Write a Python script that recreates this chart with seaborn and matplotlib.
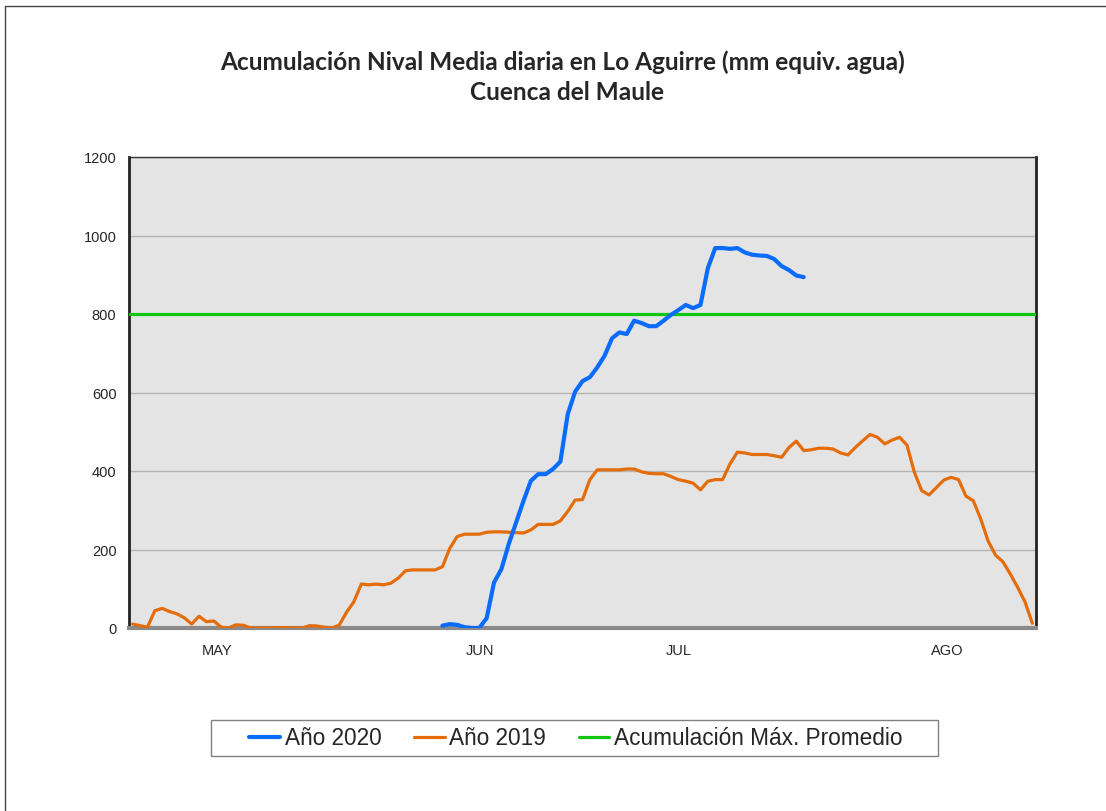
import numpy as np
import pandas as pd
import matplotlib
matplotlib.use("Agg")
import matplotlib.pyplot as plt
from matplotlib.patches import Rectangle
import seaborn as sns

# daily values, 1 May .. 31 Aug (123 days)
anio_2019 = [10, 6, 2, 44, 50, 42, 36, 26, 10, 30, 16, 18, 2, 0, 8, 7, 0, 0, 0, 0,
             1, 1, 0, 0, 6, 5, 2, 0, 7, 40, 67, 112, 110, 112, 110, 114, 127, 146, 148, 148,
             148, 148, 156, 203, 233, 239, 239, 239, 244, 245, 245, 244, 243, 242, 250, 264, 264, 264, 273, 297,
             326, 327, 378, 403, 403, 403, 403, 405, 405, 398, 394, 393, 393, 386, 378, 374, 369, 352, 374, 378,
             378, 418, 448, 446, 442, 442, 442, 439, 435, 460, 476, 452, 454, 458, 458, 456, 446, 441, 460, 477,
             493, 486, 469, 479, 486, 466, 397, 350, 339, 358, 377, 384, 378, 336, 324, 278, 222, 186, 169, 138,
             104, 67, 12]
# 2020 series starts on 12 Jun (day 42)
inicio_2020 = 42
anio_2020 = [6, 10, 8, 2, 0, 0, 25, 116, 150, 214, 269, 324, 375, 392, 392, 405, 424, 545, 602, 629,
             639, 664, 694, 738, 753, 749, 783, 777, 769, 769, 783, 798, 810, 823, 815, 823, 917, 968, 968, 966,
             968, 957, 951, 949, 948, 940, 922, 912, 898, 894]
max_promedio = 800

meses = ["MAY", "JUN", "JUL", "AGO"]
pos_meses = [11.4, 47.1, 74.0, 110.5]
yticks = [0, 200, 400, 600, 800, 1000, 1200]

dias = np.arange(len(anio_2019))
df19 = pd.DataFrame({"dia": dias, "mm": anio_2019})
df20 = pd.DataFrame({"dia": dias[inicio_2020:inicio_2020 + len(anio_2020)], "mm": anio_2020})

sns.set_style("white")
plt.rcParams["font.family"] = ["Liberation Sans", "DejaVu Sans"]

fig = plt.figure(figsize=(11.06, 8.12), dpi=100)
ax = fig.add_axes([129 / 1106, 1 - 629 / 812, (1036 - 129) / 1106, (629 - 158) / 812])
ax.set_facecolor("#e4e4e4")

azul, naranja, verde = "#0a6cfc", "#e46c0a", "#11c611"
ax.axhline(max_promedio, color=verde, lw=2.3, zorder=3, label="Acumulación Máx. Promedio")
sns.lineplot(data=df20, x="dia", y="mm", ax=ax, color=azul, lw=3.0, zorder=5, label="Año 2020")
sns.lineplot(data=df19, x="dia", y="mm", ax=ax, color=naranja, lw=2.3, zorder=4, label="Año 2019")

ax.set_xlim(-0.5, len(dias) - 0.5)
ax.set_ylim(0, 1200)
ax.set_yticks(yticks)
ax.set_yticklabels([str(v) for v in yticks], fontsize=10.5)
ax.yaxis.grid(True, color="#b4b4b4", lw=1)
ax.set_axisbelow(True)

ax.set_xticks(np.arange(-0.5, len(dias) - 1, 31))
ax.set_xticklabels([])
ax.set_xticks(pos_meses, minor=True)
ax.set_xticklabels(meses, minor=True, fontsize=10.5)
ax.tick_params(axis="x", which="minor", length=0, pad=11)
ax.tick_params(axis="x", which="major", length=5, color="#808080", width=1, direction="out")
ax.tick_params(axis="y", length=5, color="#808080", width=1, direction="out", pad=4)
ax.set_xlabel("")
ax.set_ylabel("")

ax.spines["left"].set_color("#222222")
ax.spines["left"].set_linewidth(2)
ax.spines["right"].set_color("#222222")
ax.spines["right"].set_linewidth(2)
ax.spines["top"].set_color("#333333")
ax.spines["top"].set_linewidth(1)
ax.spines["bottom"].set_color("#8a8a8a")
ax.spines["bottom"].set_linewidth(3)

ax.get_legend().remove()
h, l = ax.get_legend_handles_labels()
orden = [l.index("Año 2020"), l.index("Año 2019"), l.index("Acumulación Máx. Promedio")]
leg = fig.legend([h[i] for i in orden], [l[i] for i in orden], loc="center",
                 bbox_to_anchor=(576 / 1106, 1 - 739 / 812), ncol=3, fontsize=16.3,
                 frameon=False, handlelength=1.35,
                 handletextpad=0.2, columnspacing=1.45, borderpad=0.3)
# legend box
fig.add_artist(Rectangle((211 / 1106, 1 - 757 / 812), (938 - 211) / 1106, 36 / 812,
                         transform=fig.transFigure, fill=False, edgecolor="#808080", lw=1))

fig.text(0.509, 1 - 62 / 812, "Acumulación Nival Media diaria en Lo Aguirre (mm equiv. agua)",
         ha="center", va="center", fontsize=17.6, fontweight="bold", family=["Lato", "DejaVu Sans"])
fig.text(0.513, 1 - 92 / 812, "Cuenca del Maule",
         ha="center", va="center", fontsize=17.6, fontweight="bold", family=["Lato", "DejaVu Sans"])

# outer chart border (left and top visible)
fig.add_artist(plt.Line2D([5 / 1106, 5 / 1106], [0, 1 - 7 / 812], color="#444444", lw=1))
fig.add_artist(plt.Line2D([5 / 1106, 1], [1 - 7 / 812, 1 - 7 / 812], color="#444444", lw=1))

fig.savefig("out.png", dpi=100)
